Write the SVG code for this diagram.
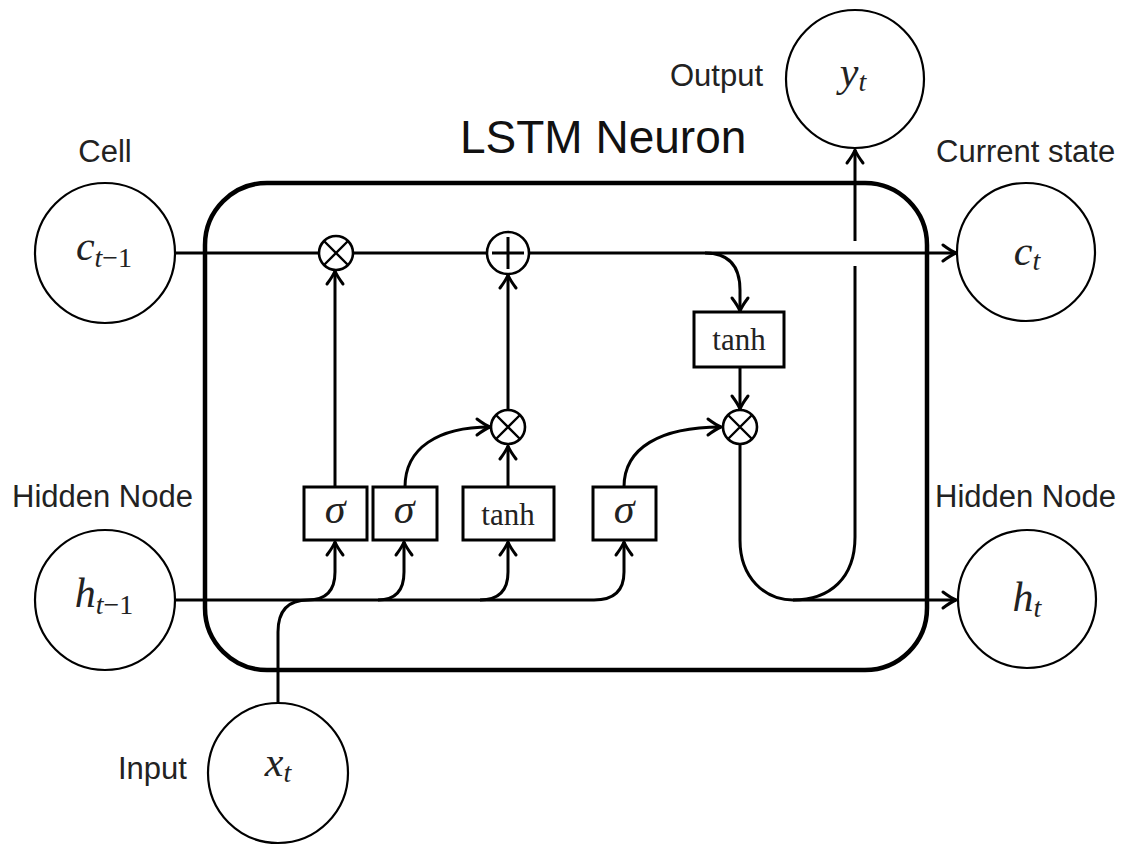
<svg xmlns="http://www.w3.org/2000/svg" width="1124" height="846" viewBox="0 0 1124 846">
<defs>
<marker id="arr" markerUnits="userSpaceOnUse" markerWidth="24" markerHeight="24" viewBox="-16 -12 20 24" refX="0" refY="0" orient="auto">
<path d="M-13,-8 Q-5,-2 0,0 Q-5,2 -13,8" fill="none" stroke="#000" stroke-width="3" stroke-linecap="round"/>
</marker>
<style>
.lbl{font-family:"Liberation Sans",Arial,sans-serif;font-size:31px;fill:#222}
.title{font-family:"Liberation Sans",Arial,sans-serif;font-size:46px;fill:#111}
.math{font-family:"Liberation Serif","Times New Roman",serif;font-style:italic;font-size:42px;fill:#222}
.sub{font-size:28px}
.up{font-style:normal}
.fn{font-family:"Liberation Serif","Times New Roman",serif;font-size:31px;fill:#222}
.circ{fill:#fff;stroke:#000;stroke-width:2.2}
.op{fill:#fff;stroke:#000;stroke-width:2.6}
.box{fill:#fff;stroke:#000;stroke-width:3}
.ln{fill:none;stroke:#000;stroke-width:3}
.a{marker-end:url(#arr)}
</style>
</defs>
<rect width="1124" height="846" fill="#fff"/>

<g id="lstm-block">
<rect x="205" y="183" width="722" height="487" rx="62" ry="62" fill="none" stroke="#000" stroke-width="4.5"/>
<text class="title" x="460" y="153">LSTM Neuron</text>
</g>

<g id="connectors">
<!-- cell state line -->
<path class="ln a" d="M175,253 L956,253"/>
<!-- hidden line and gate inputs -->
<path class="ln" d="M175,600 L594,600"/>
<path class="ln a" d="M278,703 L278,632 Q278,600 308,600 Q335,600 335,572 L335,542"/>
<path class="ln a" d="M378,600 Q404,600 404,572 L404,542"/>
<path class="ln a" d="M480,600 Q508,600 508,572 L508,542"/>
<path class="ln a" d="M594,600 Q624,600 624,572 L624,542"/>
<!-- forget gate to mult1 -->
<path class="ln a" d="M335,487 L335,271"/>
<!-- input gate sigma to mult2 -->
<path class="ln a" d="M405,487 C405,448 438,427 490,427"/>
<!-- tanh to mult2 -->
<path class="ln a" d="M508,487 L508,446"/>
<!-- mult2 to plus -->
<path class="ln a" d="M508,410 L508,275"/>
<!-- cell to upper tanh -->
<path class="ln a" d="M705,253 Q740,253 740,290 L740,311"/>
<!-- upper tanh to mult3 -->
<path class="ln a" d="M740,367 L740,409"/>
<!-- output gate sigma to mult3 -->
<path class="ln a" d="M624,487 C624,448 660,427 721,427"/>
<!-- mult3 to h_t and y_t -->
<path class="ln" d="M740,444 L740,540 C740,578 765,600 793,600"/>
<path class="ln a" d="M793,600 L956,600"/>
<path class="ln" d="M793,600 C830,600 855,578 855,537 L855,266"/>
<path class="ln a" d="M855,241 L855,150"/>
</g>

<g id="node-c-prev">
<text class="lbl" x="105" y="162" text-anchor="middle">Cell</text>
<circle class="circ" cx="105" cy="253" r="70"/>
<text class="math" x="104" y="260" text-anchor="middle">c<tspan class="sub" dy="7">t</tspan><tspan class="sub up">−1</tspan></text>
</g>

<g id="node-h-prev">
<text class="lbl" x="12" y="507">Hidden Node</text>
<circle class="circ" cx="105" cy="600" r="70"/>
<text class="math" x="104" y="607" text-anchor="middle">h<tspan class="sub" dy="7">t</tspan><tspan class="sub up">−1</tspan></text>
</g>

<g id="node-x">
<text class="lbl" x="118" y="779">Input</text>
<circle class="circ" cx="278" cy="773" r="70"/>
<text class="math" x="278" y="776" text-anchor="middle">x<tspan class="sub" dy="6">t</tspan></text>
</g>

<g id="node-y">
<text class="lbl" x="670" y="86">Output</text>
<circle class="circ" cx="855" cy="79" r="69"/>
<text class="math" x="853" y="86" text-anchor="middle">y<tspan class="sub" dy="5">t</tspan></text>
</g>

<g id="node-c">
<text class="lbl" x="936" y="162">Current state</text>
<circle class="circ" cx="1026" cy="252" r="69"/>
<text class="math" x="1027" y="265" text-anchor="middle">c<tspan class="sub" dy="5">t</tspan></text>
</g>

<g id="node-h">
<text class="lbl" x="935" y="507">Hidden Node</text>
<circle class="circ" cx="1027" cy="599" r="69"/>
<text class="math" x="1027" y="611" text-anchor="middle">h<tspan class="sub" dy="6">t</tspan></text>
</g>

<g id="mult-forget">
<circle class="op" cx="336" cy="253" r="17"/>
<path class="ln" style="stroke-width:2.4" d="M324,241 L348,265 M348,241 L324,265"/>
</g>

<g id="plus">
<circle class="op" cx="508" cy="253" r="21"/>
<path class="ln" style="stroke-width:3" d="M492,253 L524,253 M508,237 L508,269"/>
</g>

<g id="mult-input">
<circle class="op" cx="508" cy="427" r="17"/>
<path class="ln" style="stroke-width:2.4" d="M496,415 L520,439 M520,415 L496,439"/>
</g>

<g id="mult-output">
<circle class="op" cx="740" cy="427" r="17"/>
<path class="ln" style="stroke-width:2.4" d="M728,415 L752,439 M752,415 L728,439"/>
</g>

<g id="gate-forget">
<rect class="box" x="304" y="487" width="63" height="53"/>
<text class="math" x="335" y="523" text-anchor="middle">σ</text>
</g>

<g id="gate-input">
<rect class="box" x="373" y="487" width="64" height="53"/>
<text class="math" x="404" y="523" text-anchor="middle">σ</text>
</g>

<g id="gate-candidate">
<rect class="box" x="463" y="487" width="91" height="53"/>
<text class="fn" x="508" y="525" text-anchor="middle">tanh</text>
</g>

<g id="gate-output">
<rect class="box" x="593" y="487" width="63" height="53"/>
<text class="math" x="624" y="523" text-anchor="middle">σ</text>
</g>

<g id="tanh-cell">
<rect class="box" x="694" y="312" width="90" height="55"/>
<text class="fn" x="739" y="350" text-anchor="middle">tanh</text>
</g>
</svg>
